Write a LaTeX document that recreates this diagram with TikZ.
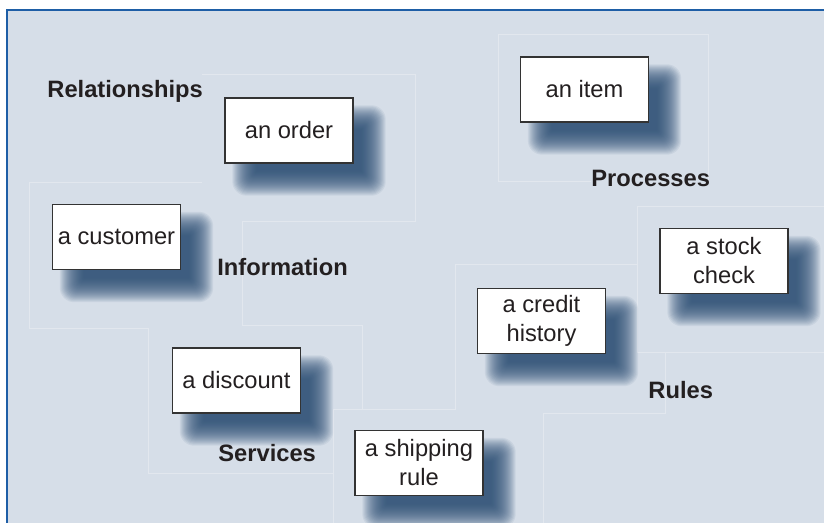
\documentclass[tikz,border=0pt]{standalone}
\usepackage{fontspec}
\setmainfont{Liberation Sans}
\usetikzlibrary{calc}
\definecolor{bgc}{HTML}{D6DEE8}
\definecolor{linec}{HTML}{E2E7EE}
\definecolor{framec}{HTML}{1E5EA6}
\definecolor{shadc}{HTML}{2B4E75}
\definecolor{txtc}{HTML}{231F20}
\pgfdeclarelayer{bglayer}
\pgfdeclarelayer{shadlayer}
\pgfsetlayers{bglayer,shadlayer,main}
\begin{document}
\begin{tikzpicture}[x=0.5pt,y=-0.5pt,
  itembox/.style={draw=black!80, line width=0.7pt, fill=white, minimum width=64pt, minimum height=32.5pt, inner sep=0pt, align=center, font=\fontsize{11.85}{14.5}\selectfont, text=txtc},
  catlabel/.style={anchor=base west, inner sep=0pt, font=\fontsize{11.85}{14}\selectfont\bfseries, text=txtc},
  region/.style={draw=linec, line width=0.5pt},
  shadowlayer/.style={fill=shadc, fill opacity=0.075}]
\useasboundingbox (0,0) rectangle (824,523);

% boxes
\node[itembox] (order) at (289,130.5) {an order};
\node[itembox] (customer) at (116.5,237) {a customer};
\node[itembox] (item) at (584.5,89.5) {an item};
\node[itembox] (stock) at (724,261) {a stock\\check};
\node[itembox] (credit) at (541.5,321) {a credit\\history};
\node[itembox] (discount) at (236.5,380.5) {a discount};
\node[itembox] (shipping) at (419,463) {a shipping\\rule};

% category labels
\node[catlabel] (rel) at (47,98) {Relationships};
\node[catlabel] (proc) at (591,187) {Processes};
\node[catlabel] (info) at (217,276) {Information};
\node[catlabel] (serv) at (218,461) {Services};
\node[catlabel] (rules) at (648,399) {Rules};

\begin{pgfonlayer}{bglayer}
  \fill[white] (0,0) rectangle (824,523);
  \fill[bgc] (7,10) rectangle (824,523);
  \draw[framec, line width=1.3pt] (7,523) -- (7,10) -- (824,10);
  % faint region outlines
  \draw[region] (202,75) -- (415,75) -- (415,222);
  \draw[region] (202,183) -- (29,183) -- (29,329) -- (148,329) -- (148,473) -- (333,473);
  \draw[region] (242,222) -- (415,222);
  \draw[region] (242,222) -- (242,326) -- (362,326) -- (362,409);
  \draw[region] (333,523) -- (333,409) -- (455,409) -- (455,265) -- (637,265);
  \draw[region] (824,207) -- (637,207) -- (637,353) -- (824,353);
  \draw[region] (665,353) -- (665,413) -- (543,413) -- (543,523);
  \draw[region] (591,182) -- (498,182) -- (498,35) -- (708,35) -- (708,182);
\end{pgfonlayer}

\begin{pgfonlayer}{shadlayer}
  \foreach \nn in {order,customer,item,stock,credit,discount,shipping}{
    \foreach \rr [evaluate=\rr as \rad using {max(0.5,(\rr+12)*0.3)}] in {12,11,...,-12}{
      \fill[shadowlayer, rounded corners=\rad pt] ($(\nn.north west)+(20-\rr,20-\rr)$) rectangle ($(\nn.south east)+(20+\rr,20+\rr)$);
    }
  }
\end{pgfonlayer}
\end{tikzpicture}
\end{document}
